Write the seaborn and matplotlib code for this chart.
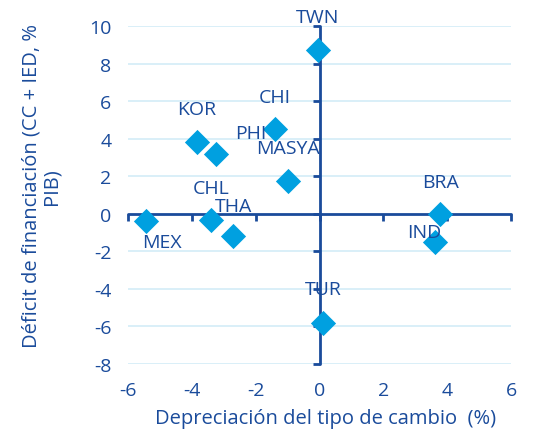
import numpy as np
import pandas as pd
import matplotlib
matplotlib.use('Agg')
import matplotlib.pyplot as plt
import seaborn as sns

# Data
countries = ['TWN', 'CHI', 'KOR', 'PHI', 'MASYA', 'BRA', 'MEX', 'CHL', 'THA', 'IND', 'TUR']
depreciation = [-0.05, -1.4, -3.85, -3.25, -1.0, 3.78, -5.45, -3.4, -2.7, 3.62, 0.1]
deficit = [8.7, 4.5, 3.8, 3.2, 1.75, 0.0, -0.4, -0.35, -1.2, -1.5, -5.8]

# label offsets (points) relative to each marker
label_dx = [0, 0, 0, 25, 0, 0, 12, 0, 0, -8, 0]
label_dy = [24, 23, 24, 15, 24, 23, -15, 23, 22, 7, 24]

xticks = [-6, -4, -2, 0, 2, 4, 6]
yticks = [-8, -6, -4, -2, 0, 2, 4, 6, 8, 10]

TEXT = '#1a4b9b'
AXIS = '#1a4b9b'
GRID = '#d3ecf7'
MARK = '#00a0e0'

sns.set_style('white')
plt.rcParams['font.family'] = ['Open Sans', 'DejaVu Sans']
plt.rcParams['axes.unicode_minus'] = False

df = pd.DataFrame({'pais': countries, 'dep': depreciation, 'def': deficit})

fig = plt.figure(figsize=(5.45, 4.35), dpi=100)
ax = fig.add_axes([0.235, 0.161, 0.703, 0.777])

for yt in yticks:
    if yt != 0:
        ax.axhline(yt, color=GRID, lw=1.2, zorder=0)

ax.plot([-6, 6], [0, 0], color=AXIS, lw=2, zorder=1, clip_on=False)
ax.plot([0, 0], [-8, 10], color=AXIS, lw=2, zorder=1, clip_on=False)
ax.plot(xticks, [0] * len(xticks), ls='none', marker=3, markersize=5,
        markeredgewidth=2, color=AXIS, clip_on=False, zorder=1)
ax.plot([0] * len(yticks), yticks, ls='none', marker=0, markersize=5,
        markeredgewidth=2, color=AXIS, clip_on=False, zorder=1)

sns.scatterplot(data=df, x='dep', y='def', marker='D', s=165, color=MARK,
                edgecolor=MARK, linewidth=0, ax=ax, zorder=3, clip_on=False)

for name, x, y, dx, dy in zip(countries, depreciation, deficit, label_dx, label_dy):
    ax.annotate(name, (x, y), xytext=(dx, dy), textcoords='offset points',
                ha='center', va='center', fontsize=14, color=TEXT, zorder=4)

ax.set_xlim(-6, 6)
ax.set_ylim(-8, 10)
ax.set_xticks(xticks)
ax.set_yticks(yticks)
ax.tick_params(length=0, labelsize=14, labelcolor=TEXT, pad=12)
for s in ax.spines.values():
    s.set_visible(False)
ax.set_xlabel('')
ax.set_ylabel('')

fig.text(0.598, 0.036, 'Depreciación del tipo de cambio  (%)', ha='center',
         va='center', fontsize=14.5, color=TEXT)
fig.text(0.077, 0.572, 'Déficit de financiación (CC + IED, %\nPIB)', ha='center',
         va='center', rotation=90, fontsize=14.5, color=TEXT,
         multialignment='center', linespacing=1.0)

fig.savefig('out.png', dpi=100)
